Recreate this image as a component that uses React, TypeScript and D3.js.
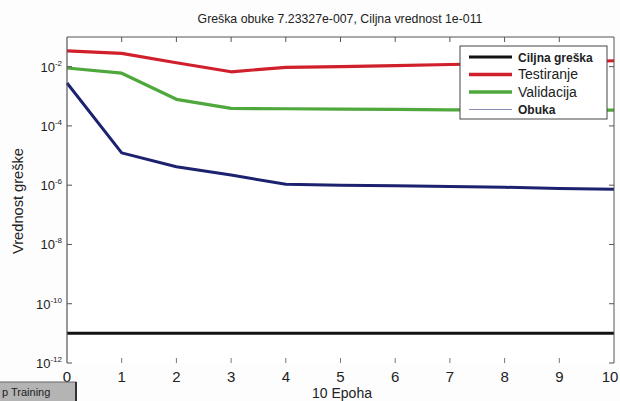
import * as d3 from 'd3';

const epochs = [0, 1, 2, 3, 4, 5, 6, 7, 8, 9, 10];
const testiranje = [0.034, 0.028, 0.0135, 0.0067, 0.0095, 0.01, 0.0109, 0.0118, 0.0127, 0.0143, 0.0158];
const validacija = [0.009, 0.006, 7.9e-4, 3.9e-4, 3.8e-4, 3.7e-4, 3.6e-4, 3.5e-4, 3.5e-4, 3.4e-4, 3.4e-4];
const obuka = [0.0028, 1.23e-5, 4.2e-6, 2.2e-6, 1.07e-6, 1.0e-6, 9.5e-7, 9.0e-7, 8.5e-7, 7.8e-7, 7.23e-7];
const ciljna = [1e-11, 1e-11, 1e-11, 1e-11, 1e-11, 1e-11, 1e-11, 1e-11, 1e-11, 1e-11, 1e-11];
const yTickExps = [-12, -10, -8, -6, -4, -2];
const xTicks = [0, 1, 2, 3, 4, 5, 6, 7, 8, 9, 10];
const legendNames = ['Ciljna greška', 'Testiranje', 'Validacija', 'Obuka'];

const W = 620;
const H = 401;
const margin = { top: 37, right: 6, bottom: 38, left: 67 };

const App = () => {
  const x = d3.scaleLinear().domain([0, 10]).range([margin.left, W - margin.right]);
  const y = d3.scaleLog().domain([1e-12, 1e-1]).range([H - margin.bottom, margin.top]);

  const line = d3.line<number>()
    .x((_, i) => x(epochs[i]))
    .y(d => y(d));

  const series = [
    { values: ciljna, color: '#111111', width: 3, legendWidth: 3 },
    { values: testiranje, color: '#d0202c', width: 3.2, legendWidth: 3.5 },
    { values: validacija, color: '#4fa83c', width: 3.2, legendWidth: 3.5 },
    { values: obuka, color: '#1c2270', width: 3, legendWidth: 1.2 },
  ];
  const legendColors = ['#111111', '#d0202c', '#4fa83c', '#8a8fb8'];

  const font = 'Arial, "Liberation Sans", sans-serif';
  const top = margin.top;
  const bottom = H - margin.bottom;
  const left = margin.left;
  const right = W - margin.right;

  return (
    <svg width={W} height={H} style={{ position: 'absolute', left: 0, top: 0, background: '#fdfdfd' }} fontFamily={font}>
      <rect x={left} y={top} width={right - left} height={bottom - top} fill='#ffffff' />

      {/* title */}
      <text x={340} y={23} textAnchor='middle' fontSize={12.3} fill='#222'>
        Greška obuke 7.23327e-007, Ciljna vrednost 1e-011
      </text>

      {/* data lines */}
      {series.map((s, i) => (
        <path key={i} d={line(s.values) || ''} fill='none' stroke={s.color} strokeWidth={s.width} strokeLinejoin='round' />
      ))}

      {/* frame */}
      <line x1={left} x2={right} y1={top} y2={top} stroke='#555' strokeWidth={1} />
      <line x1={left} x2={left} y1={top} y2={bottom} stroke='#555' strokeWidth={1.2} />
      <line x1={right} x2={right} y1={top} y2={bottom} stroke='#555' strokeWidth={1} />

      {/* x ticks */}
      {xTicks.map(t => (
        <g key={t}>
          {t > 0 && t < 10 && (
            <>
              <line x1={x(t)} x2={x(t)} y1={top} y2={top + 5} stroke='#555' />
              <line x1={x(t)} x2={x(t)} y1={bottom - 5} y2={bottom} stroke='#777' />
            </>
          )}
          <text x={t === 10 ? x(t) - 4 : x(t)} y={382} textAnchor='middle' fontSize={15} fill='#222'>{t}</text>
        </g>
      ))}

      {/* y ticks */}
      {yTickExps.map(e => (
        <g key={e}>
          <line x1={left} x2={left + 5} y1={y(Math.pow(10, e))} y2={y(Math.pow(10, e))} stroke='#555' />
          <line x1={right - 5} x2={right} y1={y(Math.pow(10, e))} y2={y(Math.pow(10, e))} stroke='#555' />
          <text x={62} y={y(Math.pow(10, e)) + 5} textAnchor='end' fontSize={13} fill='#222'>
            10<tspan dy={-6} fontSize={8}>{e}</tspan>
          </text>
        </g>
      ))}

      {/* axis labels */}
      <text x={342} y={398} textAnchor='middle' fontSize={14} fill='#222'>10 Epoha</text>
      <text transform={`translate(23, 201) rotate(-90)`} textAnchor='middle' fontSize={14} textLength={106} lengthAdjust='spacingAndGlyphs' fill='#222'>Vrednost greške</text>

      {/* legend */}
      <rect x={460} y={46} width={147} height={73} fill='#ffffff' stroke='#444' strokeWidth={1} />
      {legendNames.map((name, i) => (
        <g key={name}>
          <line x1={469} x2={512} y1={57 + i * 17.5} y2={57 + i * 17.5} stroke={legendColors[i]} strokeWidth={series[i].legendWidth} />
          <text x={518} y={57 + i * 17.5 + 4.5} fontSize={i === 1 || i === 2 ? 14 : 12} fontWeight={i === 0 || i === 3 ? 'bold' : 'normal'} fill='#222'>{name}</text>
        </g>
      ))}

      {/* stop training button fragment */}
      <rect x={-2} y={382} width={78} height={21} fill='#b4b4b4' stroke='#666' strokeWidth={1} />
      <line x1={76} x2={76} y1={382} y2={401} stroke='#333' strokeWidth={2} />
      <text x={2} y={396} fontSize={11} fill='#222'>p Training</text>
    </svg>
  );
};

export default App;
